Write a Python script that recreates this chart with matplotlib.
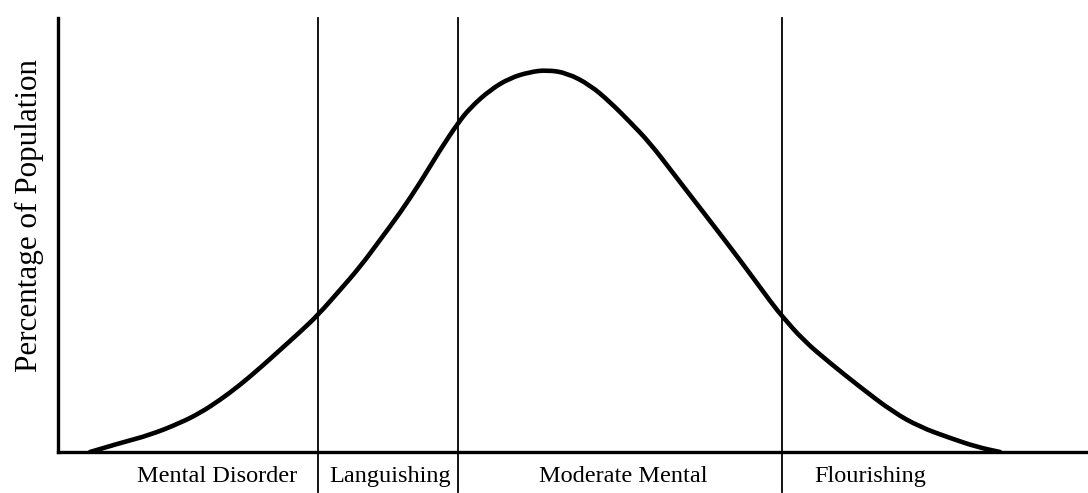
import matplotlib.pyplot as plt
from matplotlib.path import Path
from matplotlib.patches import PathPatch

# Position along the mental health continuum and share of the population
continuum = [32, 62, 92, 122, 142, 162, 182, 202, 222, 242, 260, 282, 302, 322,
             342, 362, 382, 400, 412, 432, 452, 472, 489, 509, 532, 552, 572,
             592, 615, 649, 682, 715, 724, 745, 772, 802, 835, 862, 892, 919, 942]
population = [0, 9, 17, 29, 39, 52, 67, 84, 102, 120, 137, 162, 185, 212,
              239, 269, 302, 329, 344, 362, 374, 380, 382, 379, 367, 350, 330,
              309, 279, 235, 192, 147, 136, 112, 89, 65, 40, 25, 14, 5, 0]

# Category boundaries and labels under the axis
dividers = [260, 400, 724]
categories = ["Mental Disorder", "Languishing", "Moderate Mental", "Flourishing"]
category_x = [159, 332, 565, 812]

plt.rcParams['font.family'] = ['Liberation Serif', 'DejaVu Serif']

fig = plt.figure(figsize=(10.88, 4.93), dpi=100)
ax = fig.add_axes([58 / 1088, 41 / 493, 1030 / 1088, 434 / 493])

# smooth the curve: each reading is a quadratic control point between midpoints
pts = list(zip(continuum, population))
verts = [pts[0]]
codes = [Path.MOVETO]
for p, q in zip(pts[1:-1], pts[2:]):
    mid = ((p[0] + q[0]) / 2, (p[1] + q[1]) / 2)
    verts += [p, mid]
    codes += [Path.CURVE3, Path.CURVE3]
verts.append(pts[-1])
codes.append(Path.LINETO)
ax.add_patch(PathPatch(Path(verts, codes), fill=False, edgecolor='black',
                       linewidth=3.3, capstyle='round', joinstyle='round'))

for x in dividers:
    ax.axvline(x, ymin=-40 / 434, ymax=1, color='black', linewidth=1.3,
               clip_on=False)

for label, x in zip(categories, category_x):
    ax.text(x, -30, label, ha='center', va='baseline', fontsize=17.5)

ax.set_xlim(0, 1030)
ax.set_ylim(0, 434)

ax.spines['top'].set_visible(False)
ax.spines['right'].set_visible(False)
ax.spines['left'].set_linewidth(2.4)
ax.spines['bottom'].set_linewidth(2.4)
ax.set_xticks([])
ax.set_yticks([])

fig.text(29 / 1088, 1 - 215 / 493, "Percentage of Population", rotation=90,
         ha='center', va='center', fontsize=22.4)

plt.savefig('out.png', dpi=100)
